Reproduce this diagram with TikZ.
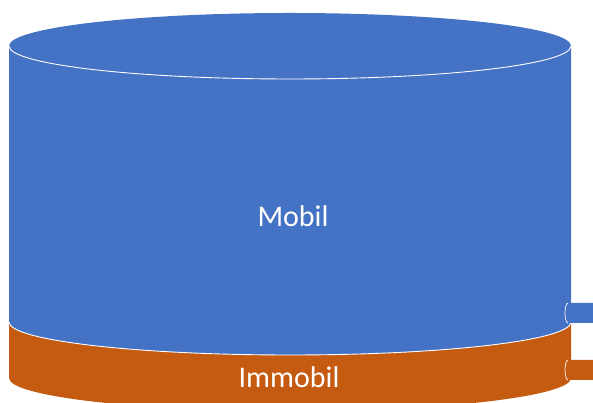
\documentclass[tikz,border=0pt]{standalone}
\usepackage{fontspec}
\setmainfont{Carlito}
\definecolor{cylblue}{HTML}{4472C4}
\definecolor{cylorange}{HTML}{C55A11}
\begin{document}
\begin{tikzpicture}[x=1pt,y=1pt,
  edge/.style={draw=white,line width=0.9pt},
  lbl/.style={text=white,font=\fontsize{30}{36}\selectfont,anchor=base,inner sep=0pt}]
\useasboundingbox (0,0) rectangle (593,403);
\clip (0,0) rectangle (593,403);
% orange lower part
\fill[cylorange] (9,81) -- (9,25) arc[start angle=180,end angle=360,x radius=281,y radius=33] -- (571,81) -- cycle;
% blue body
\fill[cylblue] (9,357) -- (9,81) arc[start angle=180,end angle=360,x radius=281,y radius=33] -- (571,357) -- cycle;
\draw[edge] (9,81) arc[start angle=180,end angle=360,x radius=281,y radius=33];
% top ellipse
\fill[cylblue] (290,357) ellipse[x radius=281,y radius=33];
\draw[edge] (9,357) arc[start angle=180,end angle=360,x radius=281,y radius=33];
% pipes
\fill[cylblue] (600,100) -- (568,100) arc[start angle=90,end angle=270,x radius=3,y radius=10] -- (600,80) -- cycle;
\draw[edge,line width=0.7pt] (568,100) arc[start angle=90,end angle=270,x radius=3,y radius=10];
\fill[cylorange] (600,43) -- (568,43) arc[start angle=90,end angle=270,x radius=3,y radius=10] -- (600,23) -- cycle;
\draw[edge,line width=0.7pt] (568,43) arc[start angle=90,end angle=270,x radius=3,y radius=10];
% labels
\node[lbl] (mobil) at (293,176) {Mobil};
\node[lbl] (immobil) at (289,15) {Immobil};
\end{tikzpicture}
\end{document}
